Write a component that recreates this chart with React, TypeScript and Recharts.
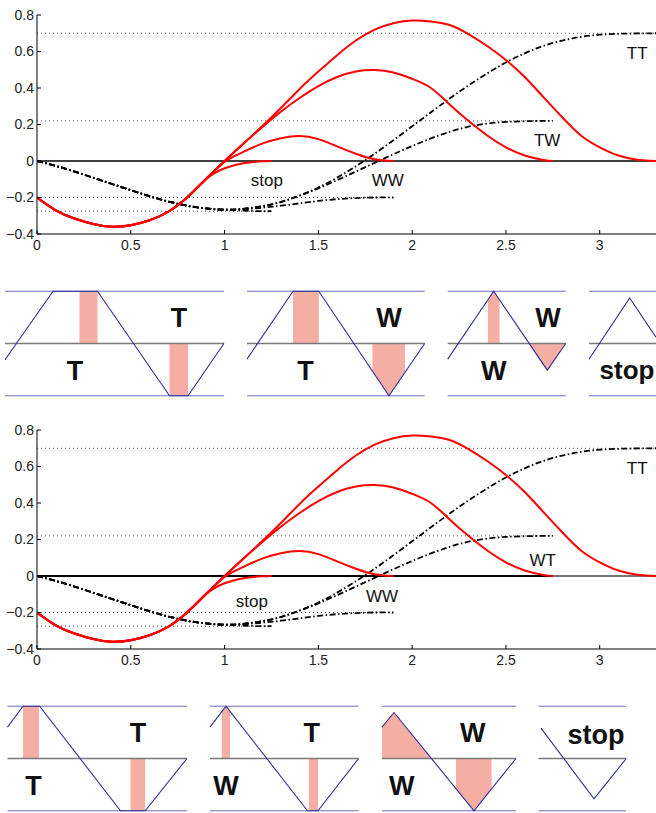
import React from "react";
import {
  LineChart,
  ComposedChart,
  Line,
  Area,
  XAxis,
  YAxis,
  ReferenceLine,
  ReferenceDot,
} from "recharts";

type P = [number, number];
const toPts = (arr: P[]) => arr.map(([x, y]) => ({ x, y }));

// ---- trajectory charts ----
const xTicks = [0, 0.5, 1, 1.5, 2, 2.5, 3];
const yTicks = [-0.4, -0.2, 0, 0.2, 0.4, 0.6, 0.8];

// shared start of every red branch, then each branch's own tail
const redCommon: P[] = [[0, -0.2], [0.1, -0.27], [0.2, -0.315], [0.3, -0.345], [0.4, -0.36], [0.5, -0.352], [0.6, -0.325], [0.7, -0.278], [0.8, -0.2], [0.9, -0.1]];
const redStop: P[] = [[1.0, -0.04], [1.1, -0.012], [1.2, -0.002], [1.25, 0]];
const redWW: P[] = [[0.95, -0.05], [1.0, -0.005], [1.05, 0.025], [1.1, 0.05], [1.2, 0.095], [1.3, 0.125], [1.4, 0.137], [1.5, 0.12], [1.6, 0.08], [1.7, 0.04], [1.8, 0.01], [1.9, 0]];
const redTW: P[] = [[1.0, 0], [1.1, 0.095], [1.2, 0.185], [1.3, 0.27], [1.4, 0.345], [1.5, 0.41], [1.6, 0.46], [1.7, 0.49], [1.8, 0.498], [1.9, 0.485], [2.0, 0.45], [2.1, 0.4], [2.2, 0.31], [2.3, 0.22], [2.4, 0.14], [2.5, 0.075], [2.6, 0.03], [2.7, 0.006], [2.75, 0]];
const redTT: P[] = [[1.0, 0], [1.1, 0.095], [1.2, 0.19], [1.3, 0.29], [1.4, 0.395], [1.5, 0.49], [1.6, 0.58], [1.7, 0.66], [1.8, 0.72], [1.9, 0.755], [2.0, 0.77], [2.1, 0.765], [2.2, 0.745], [2.3, 0.695], [2.4, 0.63], [2.5, 0.553], [2.6, 0.46], [2.7, 0.35], [2.8, 0.24], [2.9, 0.14], [3.0, 0.075], [3.1, 0.03], [3.2, 0.007], [3.3, 0]];

const blackCommon: P[] = [[0, 0], [0.1, -0.027], [0.2, -0.058], [0.3, -0.092], [0.4, -0.126], [0.5, -0.16], [0.6, -0.193], [0.7, -0.222], [0.8, -0.245], [0.9, -0.26], [1.0, -0.267]];
const blackStop: P[] = [[1.1, -0.272], [1.2, -0.275], [1.25, -0.275]];
const blackWW: P[] = [[1.1, -0.264], [1.2, -0.256], [1.3, -0.245], [1.4, -0.232], [1.5, -0.219], [1.6, -0.209], [1.7, -0.203], [1.8, -0.2], [1.9, -0.2]];
const blackTW: P[] = [[1.1, -0.262], [1.2, -0.248], [1.3, -0.225], [1.4, -0.19], [1.5, -0.15], [1.6, -0.105], [1.7, -0.058], [1.8, -0.01], [1.9, 0.037], [2.0, 0.082], [2.1, 0.124], [2.2, 0.16], [2.3, 0.188], [2.4, 0.205], [2.5, 0.214], [2.6, 0.218], [2.7, 0.22], [2.75, 0.22]];
const blackTT: P[] = [[1.1, -0.262], [1.2, -0.248], [1.3, -0.224], [1.4, -0.189], [1.5, -0.145], [1.6, -0.091], [1.7, -0.029], [1.8, 0.04], [1.9, 0.114], [2.0, 0.19], [2.1, 0.267], [2.2, 0.342], [2.3, 0.414], [2.4, 0.48], [2.5, 0.54], [2.6, 0.59], [2.7, 0.631], [2.8, 0.66], [2.9, 0.68], [3.0, 0.692], [3.1, 0.697], [3.2, 0.699], [3.3, 0.7]];

// dotted final levels and where they stop
const levelValues = [0.7, 0.22, -0.2, -0.275];
const levelEnds = [3.3, 2.75, 1.9, 1.25];

const topChartLabels = [
  { text: "stop", x: 1.225, y: -0.104 },
  { text: "WW", x: 1.87, y: -0.104 },
  { text: "TW", x: 2.72, y: 0.115 },
  { text: "TT", x: 3.2, y: 0.59 },
];
const bottomChartLabels = [
  { text: "stop", x: 1.145, y: -0.137 },
  { text: "WW", x: 1.84, y: -0.11 },
  { text: "WT", x: 2.696, y: 0.087 },
  { text: "TT", x: 3.2, y: 0.59 },
];

// ---- wave diagrams (x: position along the row, y: -1 bottom .. 1 top) ----
const topSpans: P[] = [[5, 224], [247, 424.7], [447.7, 565.7], [589, 656]];
const topWaves: P[][] = [
  [[5, -0.31], [53, 1], [97.5, 1], [169.5, -1], [188, -1], [224, 0]],
  [[247, -0.3], [293, 1], [318.8, 1], [389, -1], [424.7, 0]],
  [[447.7, -0.3], [493.7, 1], [547.3, -0.51], [565.7, 0]],
  [[589, -0.3], [629.7, 0.87], [656, 0.12]],
];
const topFills: P[][] = [
  [[79.5, 1], [97.5, 1]],
  [[169.5, -1], [188, -1]],
  [[293, 1], [318.8, 1]],
  [[372.4, -0.53], [389, -1], [405, -0.55]],
  [[487.9, 0.84], [493.7, 1], [499.6, 0.83]],
  [[529.2, 0], [547.3, -0.51], [565.7, 0]],
];
const topDiagramLabels = [
  { text: "T", x: 179, y: 0.49, size: 27 },
  { text: "T", x: 75, y: -0.51, size: 27 },
  { text: "W", x: 389, y: 0.49, size: 27 },
  { text: "T", x: 305.4, y: -0.51, size: 27 },
  { text: "W", x: 548, y: 0.49, size: 27 },
  { text: "W", x: 493.7, y: -0.51, size: 27 },
  { text: "stop", x: 627, y: -0.51, size: 26 },
];

const bottomSpans: P[] = [[7.5, 187], [210, 358.6], [382, 516], [538.5, 626]];
const bottomWaves: P[][] = [
  [[7.5, 0.6], [23, 1], [39.7, 1], [120.5, -1], [145.2, -1], [187, 0]],
  [[210, 0.6], [226, 1], [307.5, -1], [318, -1], [358.6, 0]],
  [[382, 0.6], [394, 0.88], [474, -1], [516, 0]],
  [[541, 0.58], [594, -0.77], [626.3, 0]],
];
const bottomFills: P[][] = [
  [[23, 1], [38.9, 1]],
  [[130.5, -1], [145.2, -1]],
  [[221.8, 0.9], [226, 1], [230, 0.9]],
  [[308.8, -1], [318, -1]],
  [[382, 0.6], [394, 0.88], [431.4, 0]],
  [[456, -0.58], [474, -1], [491.6, -0.58]],
];
const bottomDiagramLabels = [
  { text: "T", x: 138, y: 0.49, size: 27 },
  { text: "T", x: 33.5, y: -0.51, size: 27 },
  { text: "T", x: 311.7, y: 0.49, size: 27 },
  { text: "W", x: 226, y: -0.51, size: 27 },
  { text: "W", x: 472.8, y: 0.49, size: 27 },
  { text: "W", x: 401.7, y: -0.51, size: 27 },
  { text: "stop", x: 596, y: 0.45, size: 27 },
];

const RED = "#ff0000";
const DASHDOT = "6 2.5 1.5 2.5";
const PINK = "#f4aea4";
const NAVY = "#2f2f96";

const fmtY = (v: number) => (v === 0 ? "0" : v.toFixed(1).replace("-", "\u2212"));

const YTick = (p: any) => (
  <g>
    <line x1={p.x + 3} x2={p.x + 7} y1={p.y} y2={p.y} stroke="#000" />
    <text x={p.x} y={p.y} dy="0.35em" textAnchor="end" fontSize={14} fill="#222">
      {fmtY(p.payload.value)}
    </text>
  </g>
);

const XTick = (p: any) => (
  <g>
    <line x1={p.x} x2={p.x} y1={p.y - 6} y2={p.y - 10} stroke="#000" />
    <text x={p.x} y={p.y} dy="0.71em" textAnchor="middle" fontSize={14} fill="#222">
      {String(p.payload.value)}
    </text>
  </g>
);

const textShape = (text: string, size: number, bold: boolean) => (p: any) => (
  <text
    x={p.cx}
    y={p.cy}
    dy="0.35em"
    textAnchor="middle"
    fontSize={size}
    fontWeight={bold ? 700 : 400}
    fill="#111"
  >
    {text}
  </text>
);

function TrajectoryChart({
  labels,
  heavyZero,
}: {
  labels: { text: string; x: number; y: number }[];
  heavyZero?: boolean;
}) {
  const black = [blackStop, blackWW, blackTW, blackTT].map((t) => [...blackCommon, ...t]);
  const red = [redStop, redWW, redTW, redTT].map((t) => [...redCommon, ...t]);
  return (
    <LineChart width={656} height={254} margin={{ top: 15, right: 0, bottom: 0, left: 0 }}>
      <XAxis
        type="number"
        dataKey="x"
        domain={[0, 3.3]}
        ticks={xTicks}
        interval={0}
        tickSize={0}
        tickMargin={6}
        tickLine={false}
        tick={(p: any) => <XTick {...p} />}
        axisLine={{ stroke: "#000" }}
        height={20}
        allowDataOverflow
      />
      <YAxis
        type="number"
        dataKey="y"
        domain={[-0.4, 0.8]}
        ticks={yTicks}
        interval={0}
        width={37}
        tickSize={0}
        tickMargin={3}
        tickLine={false}
        tick={(p: any) => <YTick {...p} />}
        axisLine={{ stroke: "#000" }}
      />
      {levelValues.map((v, i) => (
        <ReferenceLine
          key={"lv" + i}
          segment={[{ x: 0, y: v }, { x: levelEnds[i], y: v }]}
          stroke="#555"
          strokeDasharray="1 3"
        />
      ))}
      {heavyZero ? (
        <>
          <ReferenceLine segment={[{ x: 0, y: 0 }, { x: 2.75, y: 0 }]} stroke="#000" strokeWidth={2} />
          <ReferenceLine segment={[{ x: 2.75, y: 0 }, { x: 3.3, y: 0 }]} stroke="#777" strokeWidth={2} />
        </>
      ) : (
        <ReferenceLine y={0} stroke="#000" strokeWidth={1.3} />
      )}
      {black.map((d, i) => (
        <Line
          key={"b" + i}
          data={toPts(d)}
          dataKey="y"
          type="natural"
          stroke="#000"
          strokeWidth={1.8}
          strokeDasharray={DASHDOT}
          dot={false}
          activeDot={false}
          isAnimationActive={false}
        />
      ))}
      {red.map((d, i) => (
        <Line
          key={"r" + i}
          data={toPts(d)}
          dataKey="y"
          type="natural"
          stroke={RED}
          strokeWidth={2}
          dot={false}
          activeDot={false}
          isAnimationActive={false}
        />
      ))}
      {labels.map((l, i) => (
        <ReferenceDot key={"l" + i} x={l.x} y={l.y} r={1} shape={textShape(l.text, 17, false)} />
      ))}
    </LineChart>
  );
}

function WaveRow({
  spans,
  waves,
  fills,
  labels,
}: {
  spans: P[];
  waves: P[][];
  fills: P[][];
  labels: { text: string; x: number; y: number; size: number }[];
}) {
  return (
    <ComposedChart width={656} height={125} margin={{ top: 6, right: 0, bottom: 4, left: 0 }}>
      <XAxis type="number" dataKey="x" domain={[0, 656]} hide />
      <YAxis type="number" domain={[-1.1, 1.1]} hide />
      {fills.map((f, i) => (
        <Area
          key={"f" + i}
          data={toPts(f)}
          dataKey="y"
          type="linear"
          baseValue={0}
          fill={PINK}
          fillOpacity={1}
          stroke="none"
          dot={false}
          activeDot={false}
          isAnimationActive={false}
        />
      ))}
      {spans.map(([a, b], i) =>
        [1, 0, -1].map((lvl) => (
          <Line
            key={"s" + i + "_" + lvl}
            data={toPts([[a, lvl], [b, lvl]])}
            dataKey="y"
            type="linear"
            stroke={lvl === 0 ? "#7a7a7a" : "#6c6cbc"}
            strokeWidth={lvl === 0 ? 1.6 : 1}
            dot={false}
            activeDot={false}
            isAnimationActive={false}
          />
        ))
      )}
      {waves.map((w, i) => (
        <Line
          key={"w" + i}
          data={toPts(w)}
          dataKey="y"
          type="linear"
          stroke={NAVY}
          strokeWidth={1.1}
          dot={false}
          activeDot={false}
          isAnimationActive={false}
        />
      ))}
      {labels.map((l, i) => (
        <ReferenceDot key={"t" + i} x={l.x} y={l.y} r={1} shape={textShape(l.text, l.size, true)} />
      ))}
    </ComposedChart>
  );
}

export default function App() {
  return (
    <div
      style={{
        position: "absolute",
        left: 0,
        top: 0,
        width: 656,
        height: 813,
        overflow: "hidden",
        background: "#fff",
        fontFamily: "'Liberation Sans', Arial, Helvetica, sans-serif",
      }}
    >
      <div style={{ position: "absolute", left: 0, top: 0 }}>
        <TrajectoryChart labels={topChartLabels} />
      </div>
      <div style={{ position: "absolute", left: 0, top: 280 }}>
        <WaveRow spans={topSpans} waves={topWaves} fills={topFills} labels={topDiagramLabels} />
      </div>
      <div style={{ position: "absolute", left: 0, top: 415 }}>
        <TrajectoryChart labels={bottomChartLabels} heavyZero />
      </div>
      <div style={{ position: "absolute", left: 0, top: 695 }}>
        <WaveRow spans={bottomSpans} waves={bottomWaves} fills={bottomFills} labels={bottomDiagramLabels} />
      </div>
    </div>
  );
}
